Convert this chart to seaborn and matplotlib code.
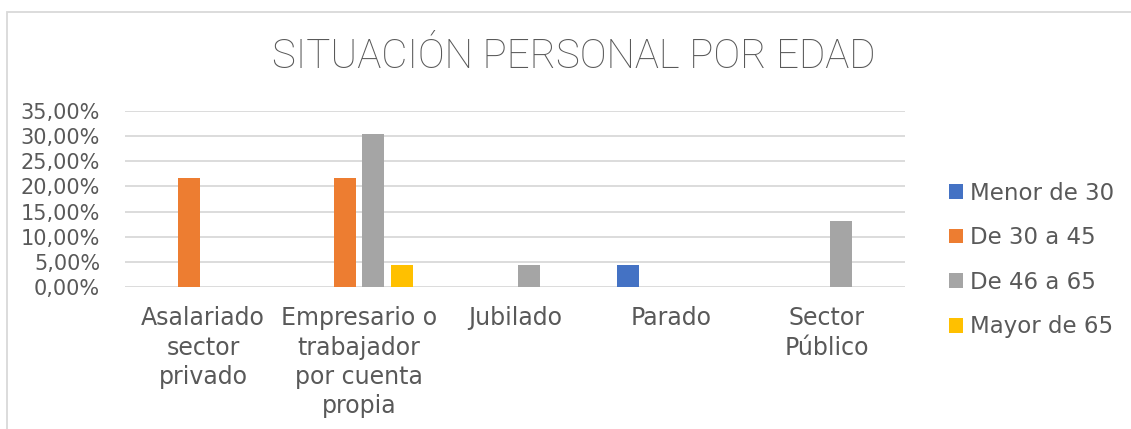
import pandas as pd
import matplotlib
matplotlib.use("Agg")
import matplotlib.pyplot as plt
from matplotlib.patches import Rectangle
from matplotlib.ticker import FuncFormatter
import seaborn as sns

categorias = [
    "Asalariado\nsector\nprivado",
    "Empresario o\ntrabajador\npor cuenta\npropia",
    "Jubilado",
    "Parado",
    "Sector\nPúblico",
]
grupos_edad = ["Menor de 30", "De 30 a 45", "De 46 a 65", "Mayor de 65"]
menor_30 = [0, 0, 0, 4.35, 0]
de_30_45 = [21.74, 21.74, 0, 0, 0]
de_46_65 = [0, 30.43, 4.35, 0, 13.04]
mayor_65 = [0, 4.35, 0, 0, 0]
colores = ["#4472C4", "#ED7D31", "#A5A5A5", "#FFC000"]

filas = []
for grupo, valores in zip(grupos_edad, [menor_30, de_30_45, de_46_65, mayor_65]):
    for cat, v in zip(categorias, valores):
        filas.append({"situacion": cat, "edad": grupo, "pct": v})
df = pd.DataFrame(filas)

sns.set_theme(style="white")
plt.rcParams["font.family"] = ["DejaVu Sans"]
gris_texto = "#595959"
gris_linea = "#D9D9D9"

fig = plt.figure(figsize=(11.31, 4.29), dpi=100)
ax = fig.add_axes([125 / 1131, 1 - 287 / 429, 780 / 1131, 176 / 429])

sns.barplot(
    data=df, x="situacion", y="pct", hue="edad",
    order=categorias, hue_order=grupos_edad, palette=colores, saturation=1,
    width=0.731, gap=0.23, linewidth=0, ax=ax, legend=True,
)

ax.set_ylim(0, 35)
ax.set_yticks(range(0, 36, 5))
ax.yaxis.set_major_formatter(FuncFormatter(lambda v, p: f"{v:.2f}%".replace(".", ",")))
ax.grid(axis="y", color=gris_linea, linewidth=1.3)
ax.set_axisbelow(True)
for s in ax.spines.values():
    s.set_visible(False)
ax.set_xlabel("")
ax.set_ylabel("")
ax.tick_params(axis="y", length=0, pad=18, labelsize=15, labelcolor=gris_texto)
ax.tick_params(axis="x", length=0, pad=14, labelsize=17, labelcolor=gris_texto)
for lbl in ax.get_xticklabels():
    lbl.set_linespacing(1.28)

handles, labels = ax.get_legend_handles_labels()
ax.get_legend().remove()
fig.legend(
    handles, labels, loc="center left", bbox_to_anchor=(949 / 1131, 1 - 260 / 429),
    frameon=False, fontsize=16.5, labelcolor=gris_texto,
    handlelength=0.6, handleheight=0.6, handletextpad=0.3,
    labelspacing=0.94, borderpad=0, borderaxespad=0,
)

fig.text(
    0.507, 1 - 56.5 / 429, "SITUACIÓN PERSONAL POR EDAD",
    ha="center", va="center", fontsize=29, color=gris_texto,
    family=["Roboto", "DejaVu Sans"], fontweight="light",
)

fig.patches.append(Rectangle(
    (7 / 1131, -0.2), 1.2, 0.2 + 1 - 12.5 / 429, transform=fig.transFigure,
    fill=False, edgecolor=gris_linea, linewidth=1.3, clip_on=False,
))

fig.savefig("out.png", dpi=100)
